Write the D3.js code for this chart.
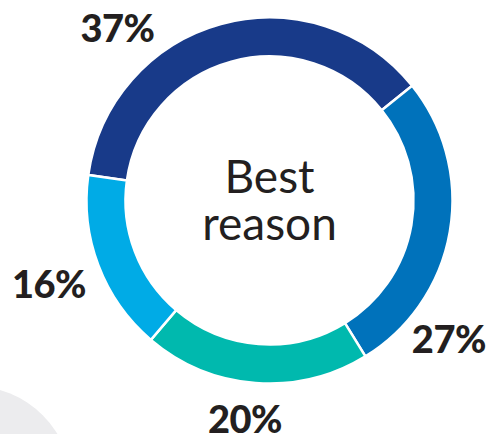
<!DOCTYPE html>
<html>
<head>
    <meta charset="utf-8">
    <title>Best reason</title>
    <script src="https://cdn.jsdelivr.net/npm/d3@7/dist/d3.min.js"></script>
    <style>
        body { margin: 0; background: #fff; }
        svg text { font-family: Lato, "Open Sans", sans-serif; fill: #231f20; }
        .pct { font-weight: 900; font-size: 38px; letter-spacing: -0.5px; }
        .center { font-weight: 400; font-size: 46px; }
    </style>
</head>
<body>
<script>
    // slices, clockwise from the left edge
    var categories = ['a', 'b', 'c', 'd'];
    var values = [37, 27, 20, 16];
    var labels = ['37%', '27%', '20%', '16%'];
    var colors = ['#183a89', '#0072bb', '#00b9ae', '#00abe6'];
    var centerText = ['Best', 'reason'];

    var width = 487, height = 434,
        cx = 269.5, cy = 200.5,
        outer = 183, inner = 144,
        start = -82 * Math.PI / 180;

    // where each label sits: angle nudge (deg) from slice middle, radius
    var labelNudge = [-26, 28, 2, 0];
    var labelRad = [230, 227, 220, 236];

    var svg = d3.select('body').append('svg')
        .attr('width', width)
        .attr('height', height);

    // grey decorative disc bottom-left
    svg.append('circle')
        .attr('cx', -28).attr('cy', 486).attr('r', 100)
        .attr('fill', '#ececee');

    var pie = d3.pie()
        .sort(null)
        .value(function(d){ return d; })
        .startAngle(start)
        .endAngle(start + 2 * Math.PI);

    var arc = d3.arc().innerRadius(inner).outerRadius(outer);

    var g = svg.append('g').attr('transform', 'translate(' + cx + ',' + cy + ')');

    var arcs = pie(values);

    g.selectAll('path.slice')
        .data(arcs)
        .enter()
        .append('path')
        .attr('class', 'slice')
        .attr('d', arc)
        .attr('fill', function(d, i){ return colors[i]; })
        .attr('stroke', '#fff')
        .attr('stroke-width', 2.5);

    function labelPos(d, i){
        var a = (d.startAngle + d.endAngle) / 2 + labelNudge[i] * Math.PI / 180;
        return [Math.sin(a) * labelRad[i], -Math.cos(a) * labelRad[i]];
    }

    g.selectAll('text.pct')
        .data(arcs)
        .enter()
        .append('text')
        .attr('class', 'pct')
        .attr('text-anchor', 'middle')
        .attr('dy', '0.36em')
        .attr('x', function(d, i){ return labelPos(d, i)[0]; })
        .attr('y', function(d, i){ return labelPos(d, i)[1]; })
        .text(function(d, i){ return labels[i]; });

    g.selectAll('text.center')
        .data(centerText)
        .enter()
        .append('text')
        .attr('class', 'center')
        .attr('text-anchor', 'middle')
        .attr('x', 0)
        .attr('y', function(d, i){ return -8 + i * 47; })
        .text(function(d){ return d; });
</script>
</body>
</html>
